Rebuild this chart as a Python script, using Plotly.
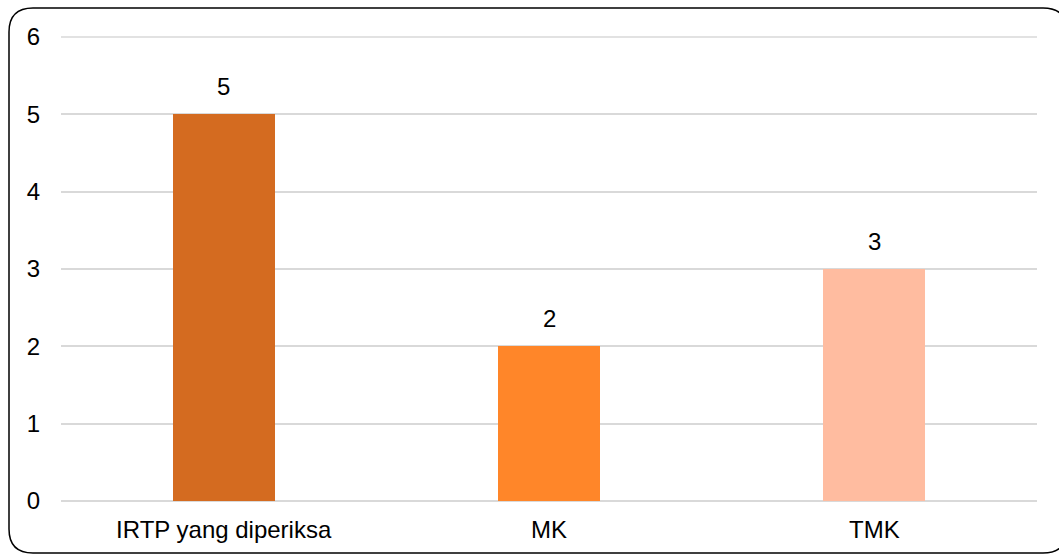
import plotly.graph_objects as go

categories = ["IRTP yang diperiksa", "MK", "TMK"]
values = [5, 2, 3]
bar_colors = ["#D46B20", "#FF8629", "#FFBCA0"]
y_ticks = [0, 1, 2, 3, 4, 5, 6]

W, H = 1059, 556
L, R, T, B = 61, 22, 37, 55
pw, ph = W - L - R, H - T - B

def px_x(x):
    return (x - L) / pw

def px_y(y):
    return (H - B - y) / ph

FONT = "Liberation Sans, Arial"

fig = go.Figure()
fig.add_trace(go.Bar(
    x=categories, y=values, marker=dict(color=bar_colors, line=dict(width=0)),
    width=0.314, showlegend=False, hoverinfo="skip",
))

for c, v in zip(categories, values):
    fig.add_annotation(x=c, y=v, text=str(v), showarrow=False, yanchor="bottom",
                       yshift=12, font=dict(size=24, color="#000000", family=FONT))

# top gridline at the axis maximum (edge gridline is not drawn by plotly)
fig.add_shape(type="line", xref="paper", yref="paper", x0=0, x1=1, y0=1, y1=1,
              line=dict(color="#D9D9D9", width=1.5), layer="below")

# rounded border
x0, x1, y0, y1, r = 9, 1067, 8, 553, 24
rx = r / pw
ry = r / ph
X0, X1 = px_x(x0), px_x(x1)
Y0, Y1 = px_y(y0), px_y(y1)
path = (f"M {X0+rx},{Y0} L {X1-rx},{Y0} Q {X1},{Y0} {X1},{Y0-ry} "
        f"L {X1},{Y1+ry} Q {X1},{Y1} {X1-rx},{Y1} L {X0+rx},{Y1} "
        f"Q {X0},{Y1} {X0},{Y1+ry} L {X0},{Y0-ry} Q {X0},{Y0} {X0+rx},{Y0} Z")
fig.add_shape(type="path", path=path, xref="paper", yref="paper",
              line=dict(color="#000000", width=1.5), fillcolor="rgba(0,0,0,0)", layer="above")

fig.update_layout(
    width=W, height=H,
    margin=dict(l=L, r=R, t=T, b=B, pad=0),
    paper_bgcolor="white", plot_bgcolor="white",
    font=dict(family=FONT, size=24, color="#000000"),
    bargap=0,
    xaxis=dict(range=[-0.5, 2.5], showgrid=False, showline=False, zeroline=False,
               ticks="", ticklabelstandoff=12, tickfont=dict(size=24)),
    yaxis=dict(range=[0, 6], tickvals=y_ticks, showgrid=True, gridcolor="#D9D9D9", gridwidth=1.5,
               zeroline=True, zerolinecolor="#D9D9D9", zerolinewidth=1.5, showline=False,
               ticks="", ticklabelstandoff=20, tickfont=dict(size=24)),
)

fig.write_html("out.html", config={"displayModeBar": False},
               post_script="document.body.style.margin='0';document.body.style.overflow='hidden';")
